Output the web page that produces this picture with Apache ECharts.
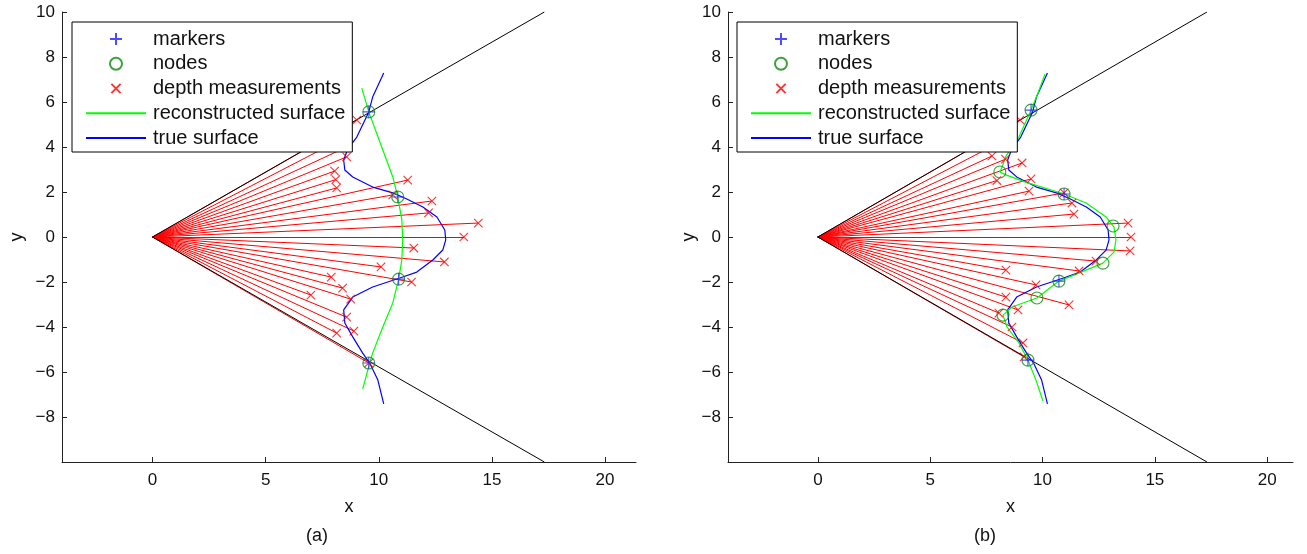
<!DOCTYPE html>
<html><head><meta charset="utf-8">
<script src="https://cdn.jsdelivr.net/npm/echarts@6/dist/echarts.min.js"></script>
<style>html,body{margin:0;padding:0;background:#fff}#c{width:1307px;height:554px}</style>
</head><body><div id="c"></div>
<script>
// ---- data ----
const xTicks = [0, 5, 10, 15, 20];
const yTicks = [-8, -6, -4, -2, 0, 2, 4, 6, 8, 10];
const panelLabels = ['(a)', '(b)'];
const legendNames = ['markers', 'nodes', 'depth measurements', 'reconstructed surface', 'true surface'];

const fovUpper = [[0, 0], [17.32, 10]];
const fovLower = [[0, 0], [17.32, -10]];

const trueSurfaceX = [10.22, 9.73, 9.56, 9.03, 8.63, 8.45, 8.50, 8.85, 9.73, 10.62, 11.24, 11.95, 12.57, 12.92, 12.96, 12.83, 12.39, 11.68, 10.93, 9.73, 8.85, 8.45, 8.50, 8.85, 9.29, 9.60, 9.96, 10.22];
const trueSurfaceY = [7.29, 6.22, 5.56, 4.44, 3.91, 3.42, 2.98, 2.67, 2.22, 1.96, 1.69, 1.33, 0.89, 0.31, -0.13, -0.58, -1.02, -1.56, -1.82, -2.22, -2.67, -3.24, -3.82, -4.44, -5.16, -5.60, -6.36, -7.42];

const reconAX = [9.25, 9.56, 10.18, 10.62, 10.84, 11.02, 11.06, 11.02, 10.88, 10.62, 10.18, 9.73, 9.60, 9.29];
const reconAY = [6.62, 5.56, 3.87, 2.67, 1.78, 0.76, -0.13, -1.02, -1.87, -2.93, -4.00, -5.16, -5.60, -6.76];

const reconBX = [10.11, 9.80, 9.49, 8.95, 8.36, 8.20, 8.10, 8.37, 9.18, 10.96, 11.94, 12.83, 13.18, 13.27, 13.18, 12.69, 11.94, 10.73, 9.75, 8.64, 8.24, 8.42, 8.95, 9.35, 9.71, 10.02];
const reconBY = [7.24, 6.40, 5.64, 4.44, 3.57, 3.11, 2.89, 2.76, 2.46, 1.91, 1.51, 0.89, 0.44, -0.13, -0.67, -1.16, -1.47, -1.96, -2.71, -3.11, -3.47, -4.00, -4.71, -5.47, -6.36, -7.29];

const nodesAX = [9.56, 10.84, 10.88, 9.56];
const nodesAY = [5.56, 1.78, -1.87, -5.60];
const markersAX = [9.56, 10.84, 10.88, 9.56];
const markersAY = [5.56, 1.78, -1.87, -5.60];

const nodesBX = [9.49, 8.10, 10.96, 13.14, 12.69, 10.73, 9.75, 8.24, 9.35];
const nodesBY = [5.64, 2.89, 1.91, 0.49, -1.16, -1.96, -2.71, -3.47, -5.47];
const markersBX = [9.49, 10.96, 10.73, 9.35];
const markersBY = [5.64, 1.91, -1.96, -5.47];

const depthAX = [9.03, 8.20, 8.50, 8.58, 8.05, 8.10, 8.14, 11.28, 10.62, 12.35, 12.20, 14.40, 13.76, 11.55, 12.90, 10.10, 11.45, 7.90, 8.40, 8.76, 7.00, 8.58, 8.90, 8.14, 9.56];
const depthAY = [5.20, 4.27, 3.96, 3.56, 2.93, 2.55, 2.18, 2.53, 1.87, 1.60, 1.07, 0.62, 0.00, -0.49, -1.11, -1.33, -2.00, -1.78, -2.27, -2.76, -2.58, -3.56, -4.18, -4.27, -5.60];

const depthBX = [9.00, 8.00, 7.75, 8.35, 9.09, 7.97, 9.49, 9.40, 10.96, 11.31, 11.40, 13.81, 13.94, 13.90, 12.38, 11.63, 8.37, 9.71, 11.18, 8.37, 8.91, 8.06, 8.64, 9.13, 9.18];
const depthBY = [5.20, 4.16, 3.60, 3.46, 3.29, 2.51, 2.58, 2.04, 1.96, 1.51, 1.02, 0.62, 0.00, -0.62, -1.07, -1.51, -1.47, -2.13, -3.02, -2.67, -3.24, -3.38, -4.00, -4.71, -5.33];

// ---- styling / building ----
const FONT = 'Liberation Sans, Arial, Helvetica, sans-serif';
const PLUS = 'path://M0,5L10,5M5,0L5,10';
const CROSS = 'path://M-1.5,-1.5M0,0L10,10M10,0L0,10M11.5,11.5';
const zip = (xs, ys) => xs.map((x, i) => [x, ys[i]]);
const fmt = v => String(v).replace('-', '\u2212');
const NONE = 'rgba(0,0,0,0)';

const panels = [
  { grid: { left: 62, top: 12, width: 574, height: 450 }, xMax: 21.37, yGap: 36,
    recon: zip(reconAX, reconAY), nodes: zip(nodesAX, nodesAY), markers: zip(markersAX, markersAY), depth: zip(depthAX, depthAY),
    legendLeft: 72, labelX: 317 },
  { grid: { left: 728, top: 12, width: 565, height: 450 }, xMax: 21.15, yGap: 29,
    recon: zip(reconBX, reconBY), nodes: zip(nodesBX, nodesBY), markers: zip(markersBX, markersBY), depth: zip(depthBX, depthBY),
    legendLeft: 737, labelX: 985 }
];

const option = { animation: false, backgroundColor: '#fff', textStyle: { fontFamily: FONT },
  grid: [], xAxis: [], yAxis: [], series: [], legend: [], graphic: [] };

const axisCommon = {
  axisLine: { show: true, onZero: false, lineStyle: { color: '#222', width: 1 } },
  axisTick: { show: true, inside: true, length: 5, lineStyle: { color: '#222' } },
  splitLine: { show: false },
  nameTextStyle: { fontSize: 18, color: '#111', fontFamily: FONT }
};

const legendData = legendNames.map(n => (n.indexOf('surface') >= 0
  ? { name: n, itemStyle: { opacity: 0 } } : { name: n }));

panels.forEach((p, i) => {
  option.grid.push(Object.assign({ containLabel: false }, p.grid));
  option.xAxis.push(Object.assign({}, axisCommon, {
    type: 'value', gridIndex: i, min: -4, max: p.xMax, name: 'x', nameLocation: 'middle', nameGap: 36,
    axisTick: Object.assign({}, axisCommon.axisTick, { customValues: xTicks }),
    axisLabel: { customValues: xTicks, fontSize: 17, color: '#111', margin: 10, fontFamily: FONT, formatter: fmt }
  }));
  option.yAxis.push(Object.assign({}, axisCommon, {
    type: 'value', gridIndex: i, min: -10, max: 10, name: 'y', nameLocation: 'middle', nameGap: p.yGap, nameRotate: 90,
    axisTick: Object.assign({}, axisCommon.axisTick, { customValues: yTicks }),
    axisLabel: { customValues: yTicks, fontSize: 17, color: '#111', margin: 7, fontFamily: FONT, formatter: fmt }
  }));
  const ax = { xAxisIndex: i, yAxisIndex: i };
  option.series.push(Object.assign({
    name: 'rays', type: 'lines', coordinateSystem: 'cartesian2d', silent: true, z: 1,
    lineStyle: { color: '#ff0000', width: 1, opacity: 1 },
    data: p.depth.map(pt => ({ coords: [[0, 0], pt] }))
  }, ax));
  option.series.push(Object.assign({
    name: 'fov', type: 'lines', coordinateSystem: 'cartesian2d', silent: true, z: 1,
    lineStyle: { color: '#000', width: 1, opacity: 1 },
    data: [{ coords: fovUpper }, { coords: fovLower }]
  }, ax));
  option.series.push(Object.assign({
    name: 'true surface', type: 'line', symbol: 'none', z: 3,
    lineStyle: { color: '#0000ff', width: 1.2 }, itemStyle: { color: NONE },
    data: zip(trueSurfaceX, trueSurfaceY)
  }, ax));
  option.series.push(Object.assign({
    name: 'reconstructed surface', type: 'line', symbol: 'none', z: 3,
    lineStyle: { color: '#00ff00', width: 1.2 }, itemStyle: { color: NONE },
    data: p.recon
  }, ax));
  option.series.push(Object.assign({
    name: 'depth measurements', type: 'scatter', symbol: CROSS, symbolSize: 11, z: 4,
    itemStyle: { color: '#ff0000', borderColor: '#ff0000', borderWidth: 1.1 },
    data: p.depth
  }, ax));
  option.series.push(Object.assign({
    name: 'nodes', type: 'scatter', symbol: 'circle', symbolSize: 12, z: 5,
    itemStyle: { color: NONE, borderColor: '#0c8a0c', borderWidth: 1.1 },
    data: p.nodes
  }, ax));
  option.series.push(Object.assign({
    name: 'markers', type: 'scatter', symbol: PLUS, symbolSize: 12, z: 6,
    itemStyle: { color: '#2020ff', borderColor: '#2020ff', borderWidth: 1.1 },
    data: p.markers
  }, ax));
  option.legend.push({
    data: legendData, orient: 'vertical', left: p.legendLeft, top: 22,
    itemWidth: 60, itemHeight: 12, itemGap: 4.75,
    padding: [7, 7, 4, 13], borderColor: '#000', borderWidth: 1, borderRadius: 0,
    backgroundColor: '#fff', selectedMode: false, z: 10,
    textStyle: { fontSize: 20, lineHeight: 20, color: '#111', fontFamily: FONT, padding: [0, 0, 0, 2] }
  });
  option.graphic.push({
    type: 'text', x: p.labelX, y: 536,
    style: { text: panelLabels[i], font: '18px ' + FONT, fill: '#111', textAlign: 'center', textVerticalAlign: 'middle' }
  });
});

const chart = echarts.init(document.getElementById('c'), null, { renderer: 'canvas' });
chart.setOption(option);
</script>
</body></html>
